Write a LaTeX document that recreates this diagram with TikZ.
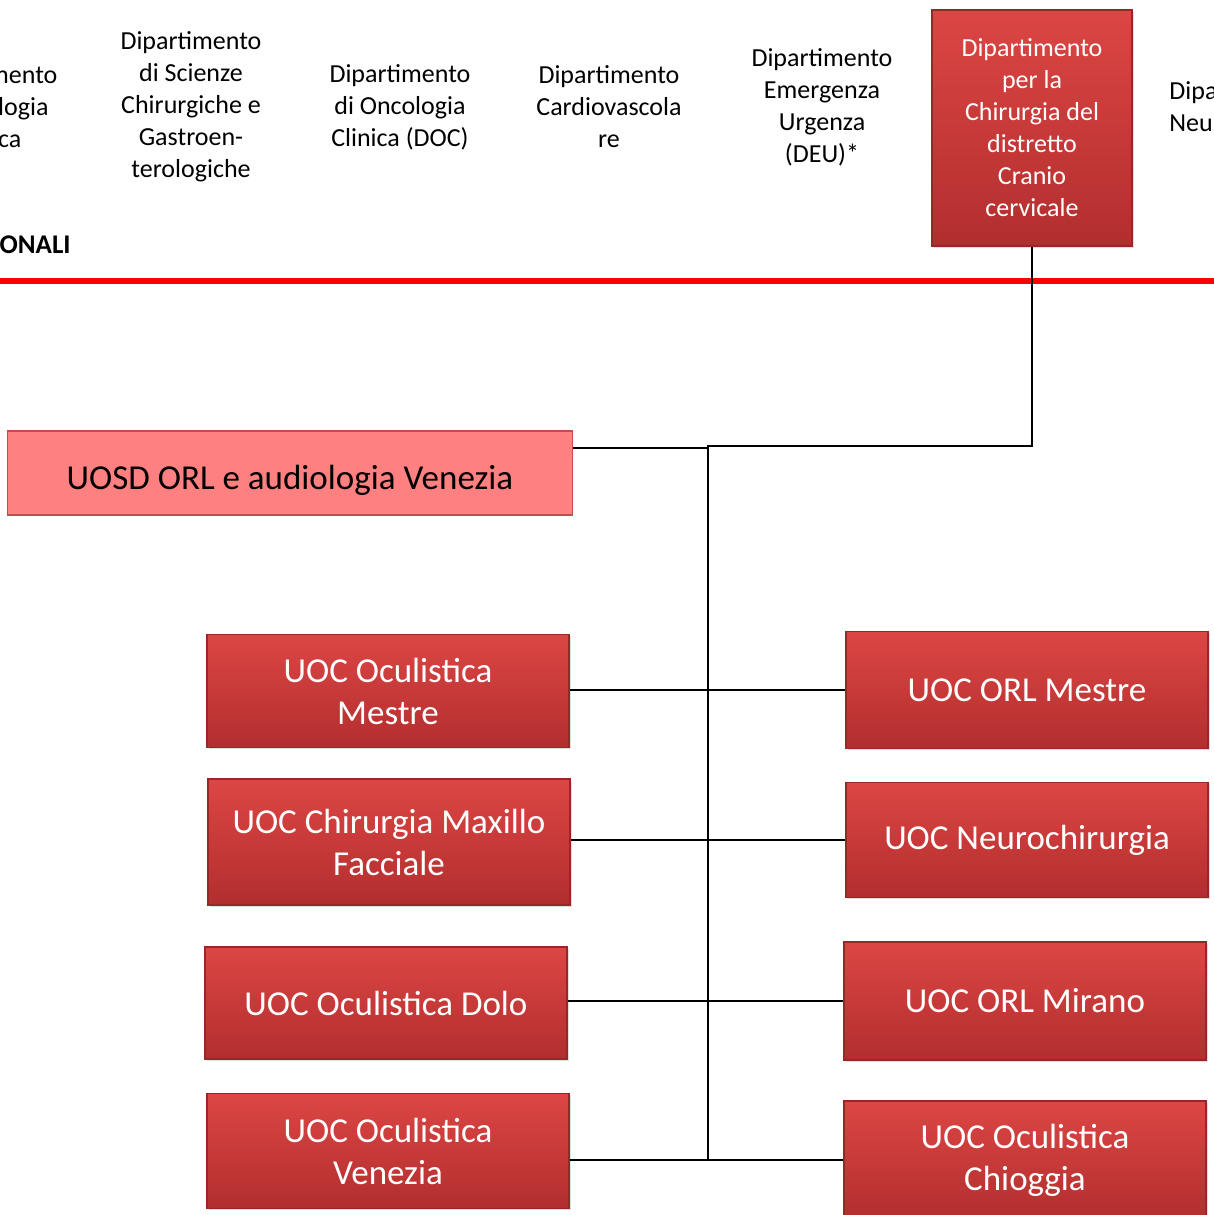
\documentclass[tikz,border=0pt]{standalone}
\usepackage{fontspec}
\setmainfont{Carlito}
\usetikzlibrary{shadows}
\definecolor{boxtop}{RGB}{220,70,68}
\definecolor{boxmid}{RGB}{204,60,58}
\definecolor{boxbot}{RGB}{178,46,46}
\definecolor{boxedge}{RGB}{150,40,40}
\definecolor{uosdfill}{RGB}{255,128,128}
\definecolor{uosdedge}{RGB}{192,80,77}
\def\link#1#2{\draw[wire] (#2.west -| #1.east) -- (#2.west)}
\tikzstyle{unit}=[rectangle,top color=boxtop,middle color=boxmid,bottom color=boxbot,draw=boxedge,line width=0.6pt,text=white,align=center,font=\fontsize{17.5}{21}\selectfont,minimum width=181pt,inner sep=2pt,drop shadow={opacity=0.25,shadow xshift=0.8pt,shadow yshift=-0.8pt}]
\tikzstyle{dept}=[unit,font=\fontsize{13}{16}\selectfont,minimum width=100pt,minimum height=118pt]
\tikzstyle{deptext}=[align=center,font=\fontsize{13}{16}\selectfont]
\tikzstyle{uosd}=[rectangle,fill=uosdfill,draw=uosdedge,line width=0.8pt,minimum width=282.5pt,minimum height=42pt,text height=20pt,text depth=4pt,font=\fontsize{17.5}{21}\selectfont]
\tikzstyle{wire}=[line width=1pt]
\begin{document}
\begin{tikzpicture}[x=0.5pt,y=-0.5pt]
  \useasboundingbox (0,0) rectangle (1214,1215);
  \clip (0,0) rectangle (1214,1215);
  % dipartimenti in alto
  \node[deptext] (dpat) at (-13,107) {Dipartimento\\di Patologia\\Clinica};
  \node[deptext] (dsci) at (191,107) {Dipartimento\\di Scienze\\Chirurgiche e\\Gastroen-\\terologiche};
  \node[deptext] (donc) at (400,107) {Dipartimento\\di Oncologia\\Clinica (DOC)};
  \node[deptext] (dcar) at (609,107) {Dipartimento\\Cardiovascola\\re};
  \node[deptext] (ddeu) at (822,107) {Dipartimento\\Emergenza\\Urgenza\\(DEU)*};
  \node[deptext,align=left,anchor=west,inner sep=0pt] (dneu) at (1169,107) {Dipartimento\\Neuroscienze};
  \node[dept] (cranio) at (1032,128) {Dipartimento\\per la\\Chirurgia del\\distretto\\Cranio\\cervicale};
  \node[anchor=east,inner sep=0pt,font=\fontsize{13.5}{16}\selectfont\bfseries] (funz) at (71,245) {DIPARTIMENTI FUNZIONALI};
  \draw[red,line width=3pt] (0,281) -- (1214,281);
  % unita operative
  \node[uosd] (orlvenezia) at (290,473) {UOSD ORL e audiologia Venezia};
  \node[unit,minimum height=56.5pt] (ocmestre) at (388,691) {UOC Oculistica\\Mestre};
  \node[unit,minimum height=63pt] (maxillo) at (389,842) {UOC Chirurgia Maxillo\\Facciale};
  \node[unit,minimum height=56pt] (ocdolo) at (386,1003) {UOC Oculistica Dolo};
  \node[unit,minimum height=57.5pt] (ocvenezia) at (388,1151) {UOC Oculistica\\Venezia};
  \node[unit,minimum height=58.5pt] (orlmestre) at (1027,690) {UOC ORL Mestre};
  \node[unit,minimum height=57.5pt] (neurochir) at (1027,840) {UOC Neurochirurgia};
  \node[unit,minimum height=59pt] (orlmirano) at (1025,1001) {UOC ORL Mirano};
  \node[unit,minimum height=59pt] (occhioggia) at (1025,1160) {UOC Oculistica\\Chioggia};
  % collegamenti
  \coordinate (hub) at (708,446);
  \coordinate (foot) at (hub |- occhioggia.west);
  \draw[wire] (cranio.south) |- (hub) -- (foot);
  \draw[wire] ([yshift=-9pt]orlvenezia.north east) -- ([yshift=-9pt]orlvenezia.north east -| hub);
  \link{ocmestre}{orlmestre};
  \link{maxillo}{neurochir};
  \link{ocdolo}{orlmirano};
  \link{ocvenezia}{occhioggia};
\end{tikzpicture}
\end{document}
